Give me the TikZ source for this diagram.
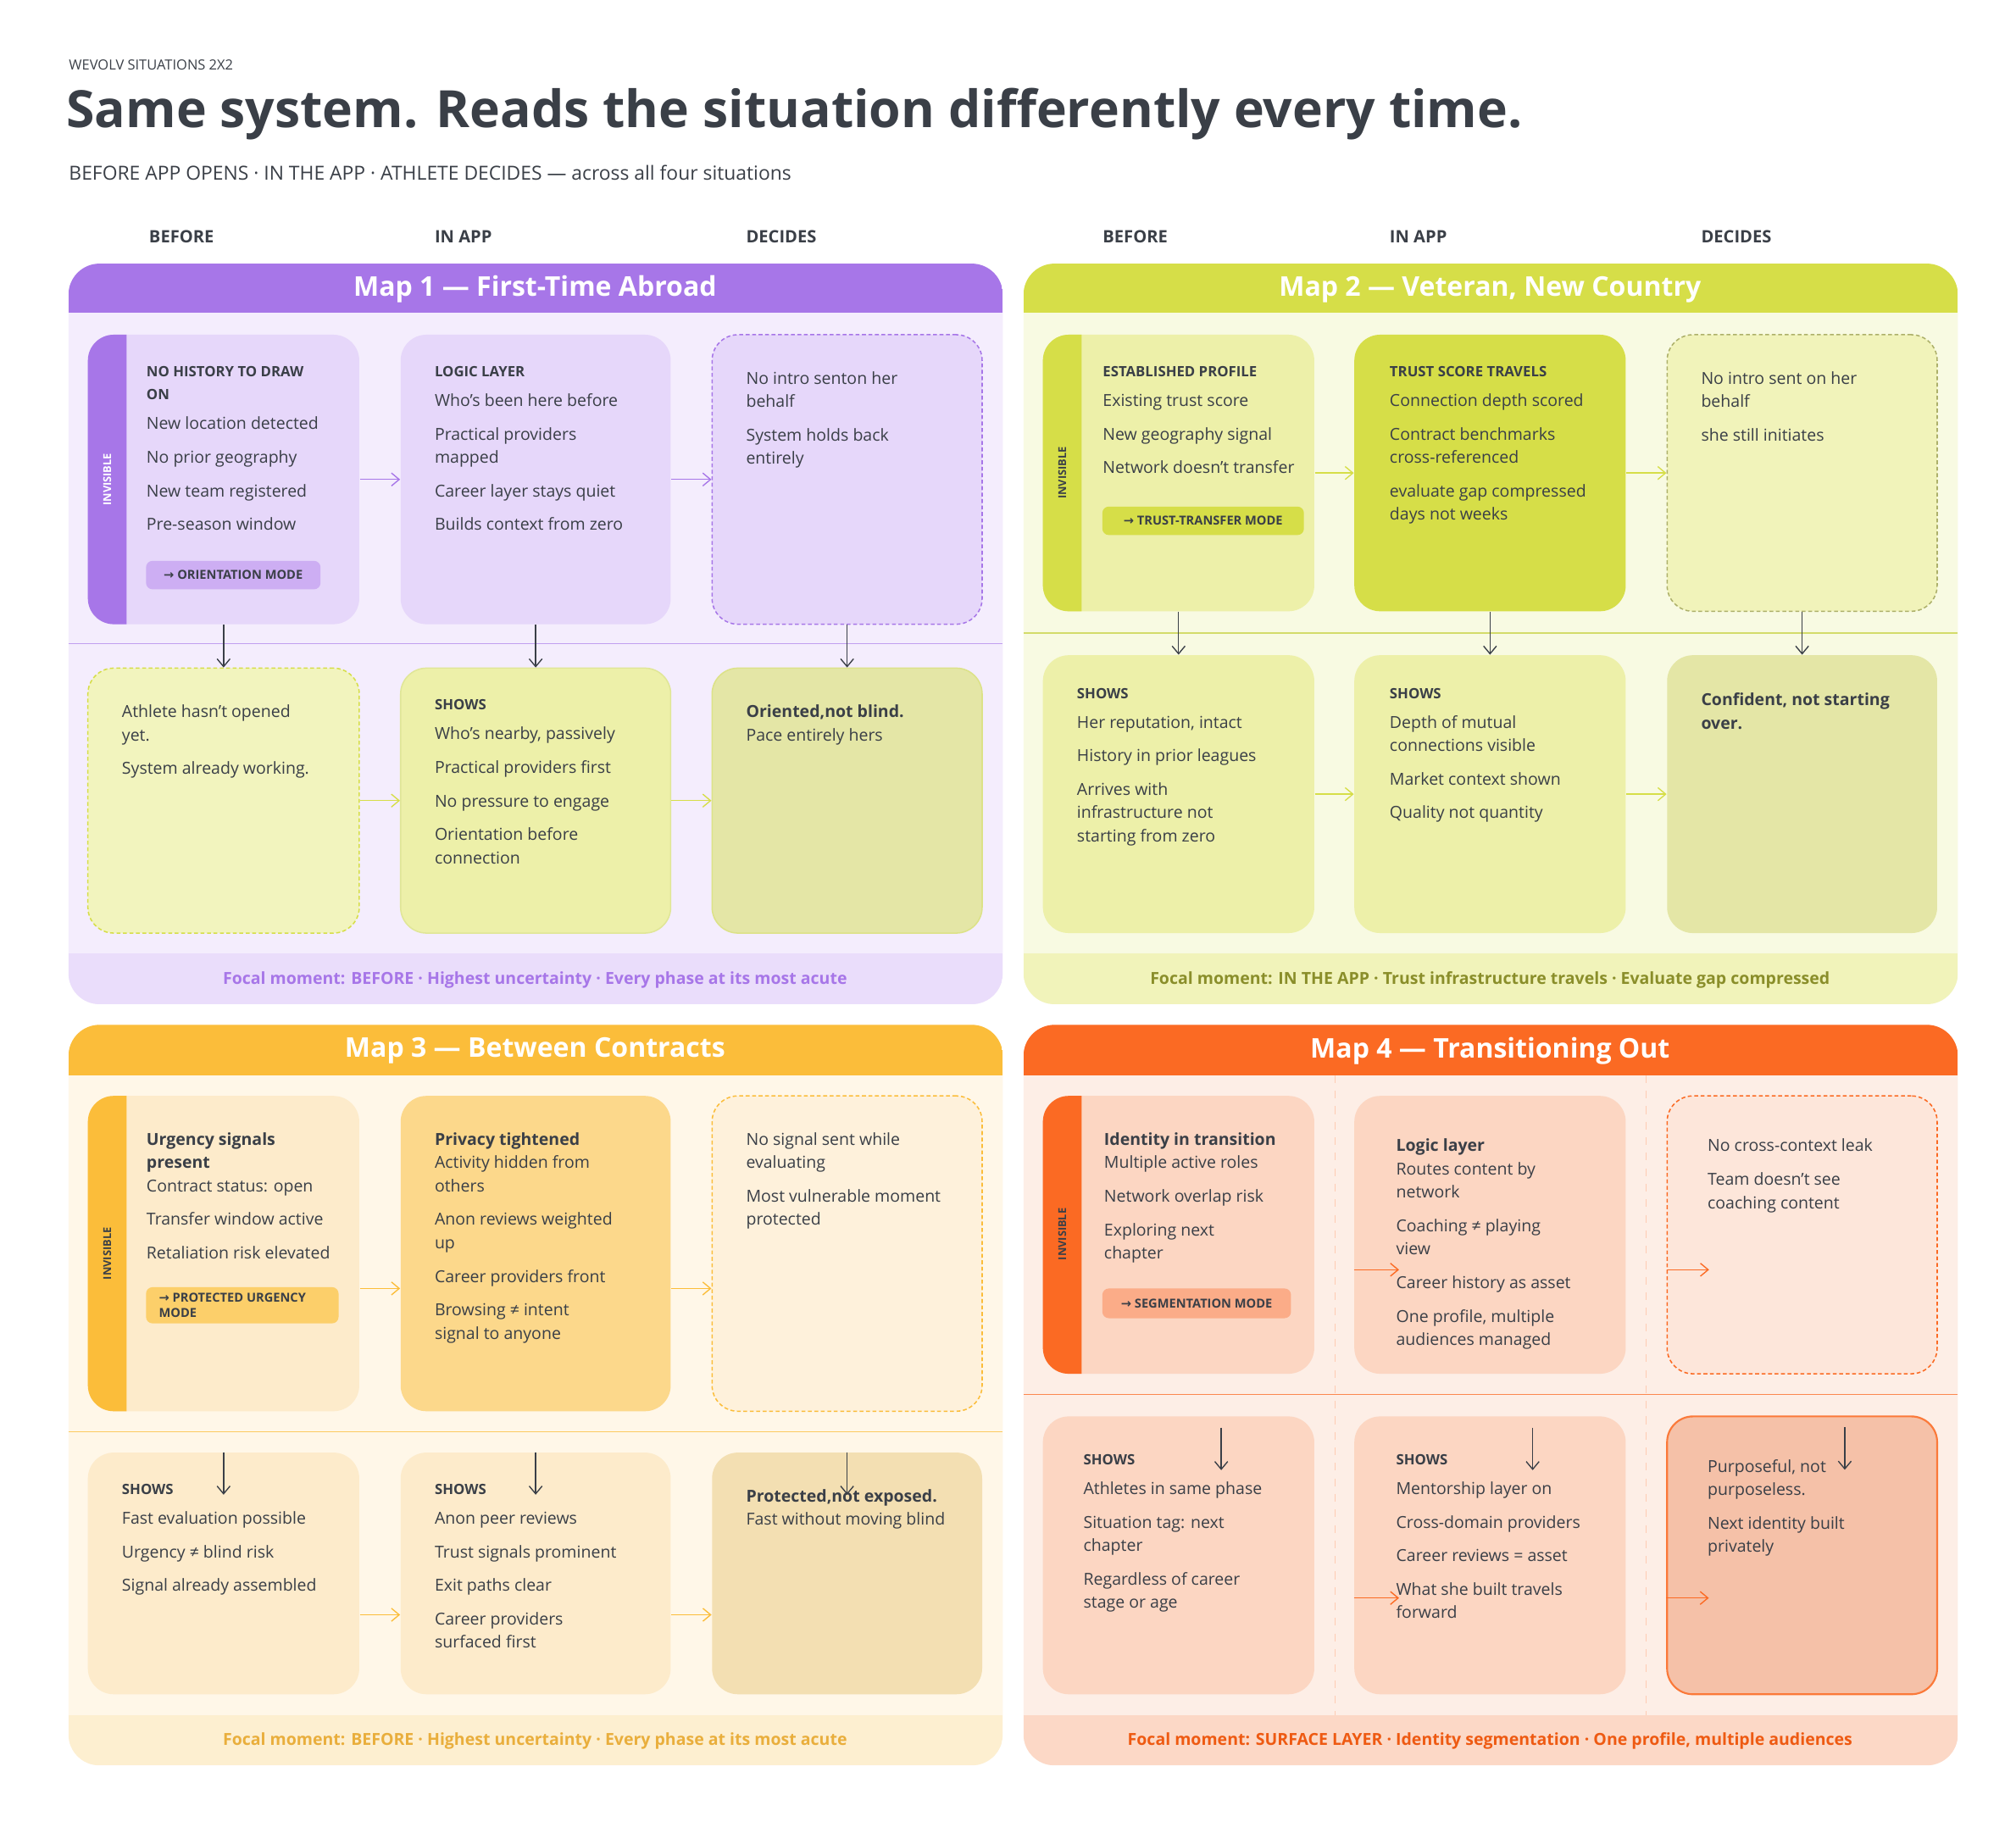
\documentclass[tikz,border=0pt]{standalone}
\usepackage{fontspec}
\setmainfont{Open Sans}
\newfontfamily\symf{DejaVu Sans}
\usetikzlibrary{arrows.meta,fit}
\definecolor{ink}{HTML}{3A3F47}
\definecolor{pA}{HTML}{A776E8}\definecolor{pBg}{HTML}{F4EDFD}\definecolor{pBox}{HTML}{E6D7FA}\definecolor{pTag}{HTML}{CDAEF3}\definecolor{pFoot}{HTML}{EADDFB}
\definecolor{gA}{HTML}{D6DE48}\definecolor{gBg}{HTML}{F8FAE2}\definecolor{gBox}{HTML}{EDF0A9}\definecolor{gDark}{HTML}{E4E6A6}\definecolor{gTxt}{HTML}{8A8E2A}\definecolor{gLine}{HTML}{D3DB6A}
\definecolor{yA}{HTML}{FBBD3A}\definecolor{yBg}{HTML}{FFF7E8}\definecolor{yBox}{HTML}{FDEBCB}\definecolor{yMid}{HTML}{FCD88B}\definecolor{yDark}{HTML}{F3DFB2}\definecolor{yTag}{HTML}{FCCF6A}\definecolor{yFoot}{HTML}{FDEFD0}\definecolor{yTxt}{HTML}{E9AE3C}
\definecolor{oA}{HTML}{FB6A23}\definecolor{oBg}{HTML}{FDEEE6}\definecolor{oBox}{HTML}{FCD6C2}\definecolor{oTag}{HTML}{FBAC88}\definecolor{oDark}{HTML}{F5C1A8}\definecolor{oFoot}{HTML}{FCD8C6}\definecolor{oTxt}{HTML}{EE5A12}
\tikzset{
  x=0.5pt,y=-0.5pt,
  bx/.style={rounded corners=10pt,inner sep=0pt},
  dsh/.style={dash pattern=on 1.5pt off 1pt,line width=0.5pt},
  txt/.style={anchor=north west,inner sep=0pt,align=left,text=ink,font=\fontsize{6.4}{9}\selectfont},
  tagbox/.style={rounded corners=2.5pt,inner sep=0pt,text=ink,font=\fontsize{4.8}{6}\selectfont\bfseries,align=left},
  hdr/.style={text=white,font=\fontsize{10.5}{12}\selectfont\bfseries},
  foot/.style={font=\fontsize{6.4}{8}\selectfont\bfseries},
  arr/.style={-{Straight Barb[length=3pt,width=5pt]},line width=0.45pt},
  vis/.style={rotate=90,font=\fontsize{4.2}{5}\selectfont\bfseries},
}
\newcommand{\hd}[1]{{\fontsize{5.5}{8}\selectfont\bfseries #1}}
\newcommand{\bh}[1]{{\bfseries #1}}
\newcommand{\rarr}{{\symf →}}
\newcommand{\panel}[8]{% x1 y1 x2 y2 bg head footcol headbot
  \fill[#5,rounded corners=12pt] (#1,#2) rectangle (#3,#4);
  \begin{scope}
    \clip[rounded corners=12pt] (#1,#2) rectangle (#3,#4);
    \fill[#6] (#1,#2) rectangle (#3,#8);
    \fill[#7] (#1,{#4-39}) rectangle (#3,#4);
  \end{scope}}
\newcommand{\sidebar}[4]{% x y1 y2 colour
  \fill[#4] ({#1+30},#2) [rounded corners=10pt] -- (#1,#2) -- (#1,#3) [sharp corners] -- ({#1+30},#3) -- cycle;}
\begin{document}
\begin{tikzpicture}
\useasboundingbox[fill=white] (0,0) rectangle (1560,1418);
\node[anchor=west,inner sep=0,text=ink,font=\fontsize{5.4}{6}\selectfont] (kick) at (53,50) {WEVOLV SITUATIONS 2X2};
\node[anchor=west,inner sep=0,text=ink,font=\fontsize{19.9}{24}\selectfont\bfseries] (title) at (51,88) {Same system. Reads the situation differently every time.};
\node[anchor=west,inner sep=0,text=ink,font=\fontsize{7.5}{9}\selectfont] (sub) at (53,134) {BEFORE APP OPENS · IN THE APP · ATHLETE DECIDES — across all four situations};
\foreach \xx/\lab [count=\i] in {115/BEFORE,336/IN APP,577/DECIDES,853/BEFORE,1075/IN APP,1316/DECIDES}
  \node[anchor=west,inner sep=0,text=ink,font=\fontsize{6.6}{8}\selectfont\bfseries] (col\i) at (\xx,183) {\lab};

%================ MAP 1
\panel{53}{204}{776}{777}{pBg}{pA}{pFoot}{242}
\node[hdr] (h1) at (414,224) {Map 1 — First-Time Abroad};
\draw[pA!70,line width=0.5pt] (53,498) -- (776,498);
\node[bx,fill=pBox,fit={(68,259)(278,483)}] (t11) {};
\sidebar{68}{259}{483}{pA}
\node[vis,text=white] (v1) at (83,371) {INVISIBLE};
\node[bx,fill=pBox,fit={(310,259)(519,483)}] (t12) {};
\node[bx,fill=pBox,draw=pA,dsh,fit={(551,259)(760,483)}] (t13) {};
\node[bx,fill=gBox!75,draw=gA,dsh,fit={(68,517)(278,722)}] (b11) {};
\node[bx,fill=gBox,draw=gLine!70,line width=0.5pt,fit={(310,517)(519,722)}] (b12) {};
\node[bx,fill=gDark,draw=gLine!80,line width=0.5pt,fit={(551,517)(760,722)}] (b13) {};
\node[txt] (x11) at (113,283) {\hd{NO HISTORY TO DRAW}\\\hd{ON}\\[2.5pt]New location detected\\[4pt]No prior geography\\[4pt]New team registered\\[4pt]Pre-season window};
\node[tagbox,fill=pTag,fit={(113,434)(248,456)}] (g1) {};
\node[tagbox] at (g1) {\rarr\ ORIENTATION MODE};
\node[txt] (x12) at (336,283) {\hd{LOGIC LAYER}\\[2.5pt]Who’s been here before\\[4pt]Practical providers\\mapped\\[4pt]Career layer stays quiet\\[4pt]Builds context from zero};
\node[txt] (x13) at (577,287) {No intro senton her\\behalf\\[4pt]System holds back\\entirely};
\node[txt] (y11) at (94,545) {Athlete hasn’t opened\\yet.\\[4pt]System already working.};
\node[txt] (y12) at (336,541) {\hd{SHOWS}\\[2.5pt]Who’s nearby, passively\\[4pt]Practical providers first\\[4pt]No pressure to engage\\[4pt]Orientation before\\connection};
\node[txt] (y13) at (577,545) {\bh{Oriented,not blind.}\\Pace entirely hers};
\draw[arr,pA] (t11.east) -- (t12.west);
\draw[arr,pA] (t12.east) -- (t13.west);
\draw[arr,gA] (b11.east) -- (b12.west);
\draw[arr,gA] (b12.east) -- (b13.west);
\foreach \a/\b in {t11/b11,t12/b12,t13/b13} \draw[arr,ink] (\a.south) -- (\b.north);
\node[foot,text=pA] (f1) at (414,758) {Focal moment: BEFORE · Highest uncertainty · Every phase at its most acute};

%================ MAP 2
\panel{792}{204}{1515}{777}{gBg}{gA}{gBox!80}{242}
\node[hdr] (h2) at (1153,224) {Map 2 — Veteran, New Country};
\draw[gLine,line width=0.5pt] (792,490) -- (1515,490);
\node[bx,fill=gBox,fit={(807,259)(1017,473)}] (t21) {};
\sidebar{807}{259}{473}{gA}
\node[vis,text=ink] (v2) at (822,366) {INVISIBLE};
\node[bx,fill=gA,fit={(1048,259)(1258,473)}] (t22) {};
\node[bx,fill=gBox!80,draw=gTxt!70,dsh,fit={(1290,259)(1499,473)}] (t23) {};
\node[bx,fill=gBox,fit={(807,507)(1017,722)}] (b21) {};
\node[bx,fill=gBox,fit={(1048,507)(1258,722)}] (b22) {};
\node[bx,fill=gDark,fit={(1290,507)(1499,722)}] (b23) {};
\node[txt] (x21) at (853,283) {\hd{ESTABLISHED PROFILE}\\[2.5pt]Existing trust score\\[4pt]New geography signal\\[4pt]Network doesn’t transfer};
\node[tagbox,fill=gA,fit={(853,392)(1009,414)}] (g2) {};
\node[tagbox] at (g2) {\rarr\ TRUST-TRANSFER MODE};
\node[txt] (x22) at (1075,283) {\hd{TRUST SCORE TRAVELS}\\[2.5pt]Connection depth scored\\[4pt]Contract benchmarks\\cross-referenced\\[4pt]evaluate gap compressed\\days not weeks};
\node[txt] (x23) at (1316,287) {No intro sent on her\\behalf\\[4pt]she still initiates};
\node[txt] (y21) at (833,532) {\hd{SHOWS}\\[2.5pt]Her reputation, intact\\[4pt]History in prior leagues\\[4pt]Arrives with\\infrastructure not\\starting from zero};
\node[txt] (y22) at (1075,532) {\hd{SHOWS}\\[2.5pt]Depth of mutual\\connections visible\\[4pt]Market context shown\\[4pt]Quality not quantity};
\node[txt] (y23) at (1316,536) {\bh{Confident, not starting}\\\bh{over.}};
\draw[arr,gA] (t21.east) -- (t22.west);
\draw[arr,gA] (t22.east) -- (t23.west);
\draw[arr,gA] (b21.east) -- (b22.west);
\draw[arr,gA] (b22.east) -- (b23.west);
\foreach \a/\b in {t21/b21,t22/b22,t23/b23} \draw[arr,ink] (\a.south) -- (\b.north);
\node[foot,text=gTxt] (f2) at (1153,758) {Focal moment: IN THE APP · Trust infrastructure travels · Evaluate gap compressed};

%================ MAP 3
\panel{53}{793}{776}{1366}{yBg}{yA}{yFoot}{832}
\node[hdr] (h3) at (414,813) {Map 3 — Between Contracts};
\draw[yA!80,line width=0.5pt] (53,1108) -- (776,1108);
\node[bx,fill=yBox,fit={(68,848)(278,1092)}] (t31) {};
\sidebar{68}{848}{1092}{yA}
\node[vis,text=ink] (v3) at (83,970) {INVISIBLE};
\node[bx,fill=yMid,fit={(310,848)(519,1092)}] (t32) {};
\node[bx,fill=yBox!70,draw=yA,dsh,fit={(551,848)(760,1092)}] (t33) {};
\node[bx,fill=yBox,fit={(68,1124)(278,1311)}] (b31) {};
\node[bx,fill=yBox,fit={(310,1124)(519,1311)}] (b32) {};
\node[bx,fill=yDark,fit={(551,1124)(760,1311)}] (b33) {};
\node[txt] (x31) at (113,876) {\bh{Urgency signals}\\\bh{present}\\Contract status: open\\[4pt]Transfer window active\\[4pt]Retaliation risk elevated};
\node[tagbox,fill=yTag,fit={(113,996)(262,1024)}] (g3) {};
\node[tagbox,anchor=west] at ([xshift=5pt]g3.west) {\rarr\ PROTECTED URGENCY\\MODE};
\node[txt] (x32) at (336,876) {\bh{Privacy tightened}\\Activity hidden from\\others\\[4pt]Anon reviews weighted\\up\\[4pt]Career providers front\\[4pt]Browsing ≠ intent\\signal to anyone};
\node[txt] (x33) at (577,876) {No signal sent while\\evaluating\\[4pt]Most vulnerable moment\\protected};
\node[txt] (y31) at (94,1148) {\hd{SHOWS}\\[2.5pt]Fast evaluation possible\\[4pt]Urgency ≠ blind risk\\[4pt]Signal already assembled};
\node[txt] (y32) at (336,1148) {\hd{SHOWS}\\[2.5pt]Anon peer reviews\\[4pt]Trust signals prominent\\[4pt]Exit paths clear\\[4pt]Career providers\\surfaced first};
\node[txt] (y33) at (577,1152) {\bh{Protected,not exposed.}\\Fast without moving blind};
\draw[arr,yA] ([yshift=-13.5pt]t31.east) -- ([yshift=-13.5pt]t32.west);
\draw[arr,yA] ([yshift=-13.5pt]t32.east) -- ([yshift=-13.5pt]t33.west);
\draw[arr,yA] ([yshift=-16pt]b31.east) -- ([yshift=-16pt]b32.west);
\draw[arr,yA] ([yshift=-16pt]b32.east) -- ([yshift=-16pt]b33.west);
\foreach \a in {b31,b32,b33} \draw[arr,ink] (\a.north) -- ++(0,33);
\node[foot,text=yTxt] (f3) at (414,1347) {Focal moment: BEFORE · Highest uncertainty · Every phase at its most acute};

%================ MAP 4
\panel{792}{793}{1515}{1366}{oBg}{oA}{oFoot}{832}
\node[hdr] (h4) at (1153,813) {Map 4 — Transitioning Out};
\draw[oA!35,dashed,line width=0.4pt] (1033,832) -- (1033,1327);
\draw[oA!35,dashed,line width=0.4pt] (1274,832) -- (1274,1327);
\draw[oA!80,line width=0.6pt] (792,1079) -- (1515,1079);
\node[bx,fill=oBox,fit={(807,848)(1017,1063)}] (t41) {};
\sidebar{807}{848}{1063}{oA}
\node[vis,text=ink] (v4) at (822,955) {INVISIBLE};
\node[bx,fill=oBox,fit={(1048,848)(1258,1063)}] (t42) {};
\node[bx,fill=oBox!60,draw=oA,dsh,fit={(1290,848)(1499,1063)}] (t43) {};
\node[bx,fill=oBox,fit={(807,1096)(1017,1311)}] (b41) {};
\node[bx,fill=oBox,fit={(1048,1096)(1258,1311)}] (b42) {};
\node[bx,fill=oDark,draw=oA!90,line width=0.7pt,fit={(1290,1096)(1499,1311)}] (b43) {};
\node[txt] (x41) at (854,876) {\bh{Identity in transition}\\Multiple active roles\\[4pt]Network overlap risk\\[4pt]Exploring next\\chapter};
\node[tagbox,fill=oTag,fit={(853,997)(999,1020)}] (g4) {};
\node[tagbox] at (g4) {\rarr\ SEGMENTATION MODE};
\node[txt] (x42) at (1080,881) {\bh{Logic layer}\\Routes content by\\network\\[4pt]Coaching ≠ playing\\view\\[4pt]Career history as asset\\[4pt]One profile, multiple\\audiences managed};
\node[txt] (x43) at (1321,881) {No cross-context leak\\[4pt]Team doesn’t see\\coaching content};
\node[txt] (y41) at (838,1125) {\hd{SHOWS}\\[2.5pt]Athletes in same phase\\[4pt]Situation tag: next\\chapter\\[4pt]Regardless of career\\stage or age};
\node[txt] (y42) at (1080,1125) {\hd{SHOWS}\\[2.5pt]Mentorship layer on\\[4pt]Cross-domain providers\\[4pt]Career reviews = asset\\[4pt]What she built travels\\forward};
\node[txt] (y43) at (1321,1129) {Purposeful, not\\purposeless.\\[4pt]Next identity built\\privately};
\draw[arr,oA] ([yshift=-13.5pt]t42.west) -- ++(35,0);
\draw[arr,oA] ([yshift=-13.5pt]t43.west) -- ++(33,0);
\draw[arr,oA] ([yshift=-16.5pt]b42.west) -- ++(35,0);
\draw[arr,oA] ([yshift=-16.5pt]b43.west) -- ++(33,0);
\foreach \a in {b41,b42,b43} \draw[arr,ink] ([xshift=16.5pt,yshift=-4.5pt]\a.north) -- ++(0,33);
\node[foot,text=oTxt] (f4) at (1153,1347) {Focal moment: SURFACE LAYER · Identity segmentation · One profile, multiple audiences};
\end{tikzpicture}
\end{document}
